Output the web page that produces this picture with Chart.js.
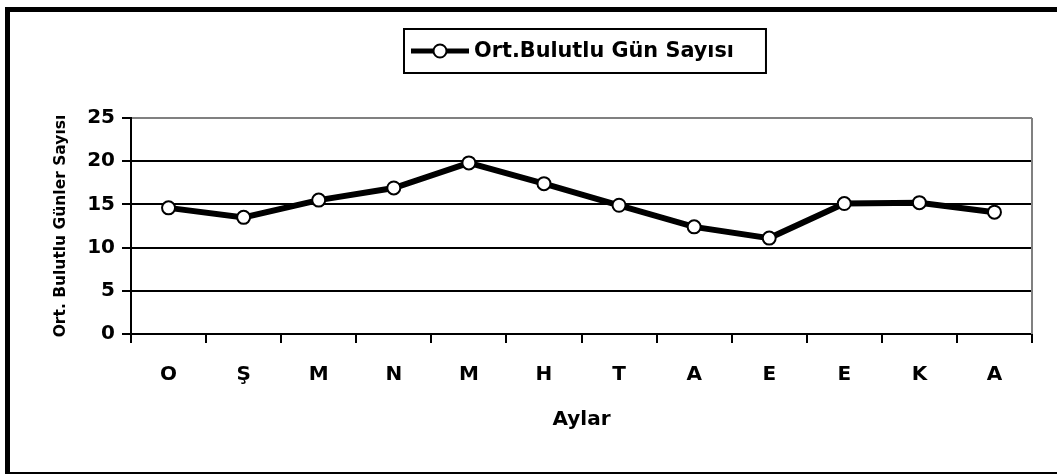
<!DOCTYPE html>
<html>
<head>
<meta charset="utf-8">
<script src="https://cdn.jsdelivr.net/npm/chart.js@4/dist/chart.umd.min.js"></script>
<style>
  body { margin: 0; background: #fff; }
  #frame {
    position: absolute; left: 5px; top: 7px;
    width: 1100px; height: 470px;
    box-sizing: border-box; border: 5px solid #000;
  }
  #chart { position: absolute; left: 0; top: 0; }
</style>
</head>
<body>
<div id="frame"></div>
<canvas id="chart" width="1057" height="474"></canvas>
<script>
const months = ["O", "Ş", "M", "N", "M", "H", "T", "A", "E", "E", "K", "A"];
const cloudyDays = [14.6, 13.5, 15.5, 16.9, 19.8, 17.4, 14.9, 12.4, 11.1, 15.1, 15.2, 14.1];
const seriesName = "Ort.Bulutlu Gün Sayısı";
const yTitle = "Ort. Bulutlu Günler Sayısı";
const xTitle = "Aylar";

const FONT = "'DejaVu Sans', sans-serif";

// boxed legend like the excel one, centred over the plot
const boxLegend = {
  id: "boxLegend",
  afterDraw(chart) {
    const ctx = chart.ctx;
    const area = chart.chartArea;
    ctx.save();
    ctx.font = "bold 20.8px " + FONT;
    const textW = ctx.measureText(seriesName).width;
    const sampleW = 58;
    const boxW = 7 + sampleW + 5 + textW + 32;
    const boxH = 44;
    const cx = (area.left + area.right) / 2 + 3;
    const x0 = Math.round(cx - boxW / 2);
    const y0 = 29;
    const midY = y0 + boxH / 2;

    ctx.lineWidth = 2;
    ctx.strokeStyle = "#000";
    ctx.strokeRect(x0, y0, boxW, boxH);

    ctx.lineWidth = 5;
    ctx.beginPath();
    ctx.moveTo(x0 + 7, midY);
    ctx.lineTo(x0 + 7 + sampleW, midY);
    ctx.stroke();

    ctx.beginPath();
    ctx.arc(x0 + 7 + sampleW / 2, midY, 6.5, 0, Math.PI * 2);
    ctx.fillStyle = "#fff";
    ctx.fill();
    ctx.lineWidth = 2;
    ctx.stroke();

    ctx.fillStyle = "#000";
    ctx.textBaseline = "middle";
    ctx.fillText(seriesName, x0 + 7 + sampleW + 5, midY + 1);
    ctx.restore();
  }
};

// grey right edge of the plot area
const plotEdge = {
  id: "plotEdge",
  beforeDatasetsDraw(chart) {
    const ctx = chart.ctx;
    const a = chart.chartArea;
    ctx.save();
    ctx.strokeStyle = "#808080";
    ctx.lineWidth = 2;
    ctx.beginPath();
    ctx.moveTo(a.right, a.top);
    ctx.lineTo(a.right, a.bottom);
    ctx.stroke();
    ctx.restore();
  }
};

new Chart(document.getElementById("chart"), {
  type: "line",
  data: {
    labels: months,
    datasets: [{
      label: seriesName,
      data: cloudyDays,
      borderColor: "#000",
      borderWidth: 6,
      tension: 0,
      pointRadius: 6.5,
      pointBackgroundColor: "#fff",
      pointBorderColor: "#000",
      pointBorderWidth: 2
    }]
  },
  options: {
    responsive: false,
    animation: false,
    layout: { padding: { left: 0, right: 25, top: 118, bottom: 0 } },
    plugins: {
      legend: { display: false },
      tooltip: { enabled: false }
    },
    scales: {
      x: {
        offset: true,
        afterFit: s => { s.height = 140; },
        grid: {
          offset: true,
          drawOnChartArea: false,
          color: "#000",
          lineWidth: 2,
          tickLength: 9
        },
        border: { color: "#000", width: 2 },
        ticks: {
          color: "#000",
          padding: 20,
          maxRotation: 0,
          font: { family: FONT, size: 20, weight: "bold" }
        },
        title: {
          display: true,
          text: xTitle,
          color: "#000",
          padding: { top: 0, bottom: 42 },
          font: { family: FONT, size: 20, weight: "bold" }
        }
      },
      y: {
        min: 0,
        max: 25,
        afterFit: s => { s.width = 131; },
        grid: {
          color: c => (c.tick && c.tick.value === 25 ? "#808080" : "#000"),
          tickColor: "#000",
          lineWidth: 2,
          tickLength: 9
        },
        border: { color: "#000", width: 2 },
        ticks: {
          stepSize: 5,
          color: "#000",
          padding: 7,
          font: { family: FONT, size: 20, weight: "bold" }
        },
        title: {
          display: true,
          text: yTitle,
          color: "#000",
          padding: { top: 52, bottom: 0 },
          font: { family: FONT, size: 15.5, weight: "bold" }
        }
      }
    }
  },
  plugins: [plotEdge, boxLegend]
});
</script>
</body>
</html>
